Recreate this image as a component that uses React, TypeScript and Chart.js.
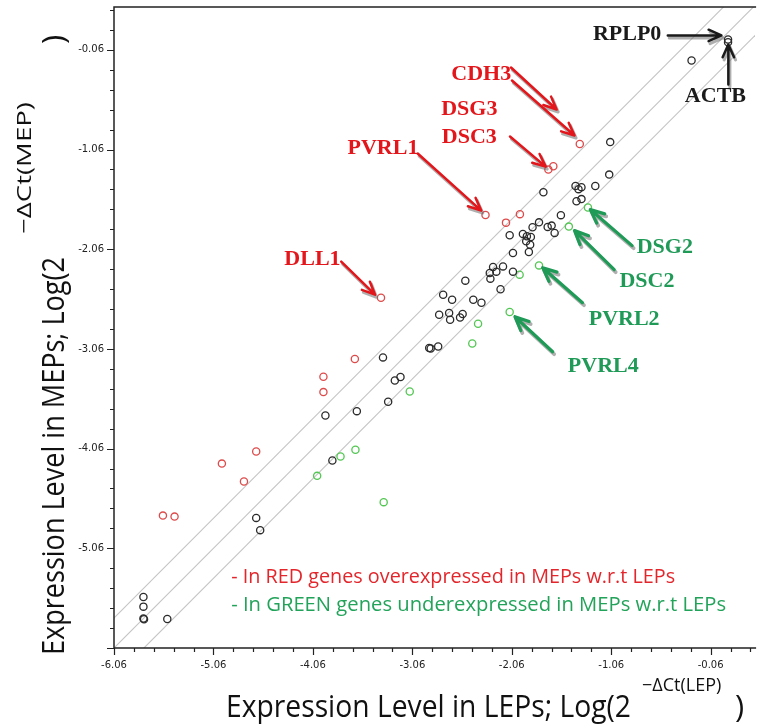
import React, { useEffect, useRef } from "react";
import { Chart, registerables } from "chart.js";
Chart.register(...registerables);

// ---------------- data ----------------
// genes with similar expression (black)
const unchangedGenes: [number, number][] = [
  [0.115, 0.044], [0.115, 0.017], [-0.252, -0.166],
  [-1.07, -0.985], [-1.08, -1.311],
  [-1.419, -1.426], [-1.359, -1.437], [-1.389, -1.457], [-1.22, -1.426],
  [-1.409, -1.579], [-1.359, -1.557], [-1.742, -1.489],
  [-1.566, -1.718], [-1.786, -1.79], [-1.699, -1.836], [-1.659, -1.823], [-1.629, -1.896],
  [-1.851, -1.84], [-1.948, -1.906], [-1.908, -1.93], [-1.868, -1.937], [-1.915, -1.981], [-1.875, -2.014],
  [-2.081, -1.92], [-2.048, -2.097], [-1.888, -2.087],
  [-2.148, -2.232], [-2.248, -2.238], [-2.281, -2.298], [-2.215, -2.285], [-2.275, -2.355], [-2.048, -2.285], [-2.173, -2.461],
  [-2.527, -2.375], [-2.447, -2.566], [-2.365, -2.596],
  [-2.75, -2.516], [-2.66, -2.566], [-2.79, -2.717], [-2.69, -2.7], [-2.68, -2.767], [-2.58, -2.744], [-2.554, -2.71],
  [-2.89, -3.05], [-2.875, -3.055], [-2.8, -3.035],
  [-3.355, -3.145], [-3.236, -3.376], [-3.179, -3.342], [-3.303, -3.59], [-3.618, -3.684], [-3.934, -3.728], [-3.864, -4.179],
  [-4.63, -4.755], [-4.59, -4.878],
  [-5.764, -5.548], [-5.764, -5.645], [-5.764, -5.764], [-5.758, -5.772], [-5.524, -5.769],
];
// overexpressed in MEPs (red)
const overexpressedGenes: [number, number][] = [
  [-1.376, -1.005], [-1.692, -1.261], [-1.642, -1.228], [-2.324, -1.716], [-2.118, -1.793], [-1.978, -1.708],
  [-3.375, -2.546], [-3.638, -3.161], [-3.954, -3.339], [-3.954, -3.493],
  [-4.63, -4.089], [-4.975, -4.21], [-4.753, -4.39], [-5.568, -4.732], [-5.451, -4.742],
];
// underexpressed in MEPs (green)
const underexpressedGenes: [number, number][] = [
  [-1.294, -1.642], [-1.486, -1.833], [-1.981, -2.315], [-1.786, -2.222], [-2.081, -2.689], [-2.399, -2.807],
  [-2.457, -3.005], [-3.086, -3.487], [-3.632, -4.072], [-3.782, -4.139], [-4.017, -4.333], [-3.348, -4.597],
];

const xTickLabels = [-6.06, -5.06, -4.06, -3.06, -2.06, -1.06, -0.06];
const yTickLabels = [-5.06, -4.06, -3.06, -2.06, -1.06, -0.06];
const minorStep = 0.2;
const foldOffsets = [0.301, 0, -0.301];
const X_MIN = -6.06, X_MAX = 0.387, Y_MIN = -6.06, Y_MAX = 0.37;

type Note = { text: string; kind: "black" | "red" | "green"; tx: number; ty: number; arrows: number[][] };
const notes: Note[] = [
  { text: "RPLP0", kind: "black", tx: -0.9, ty: 0.095, arrows: [[-0.491, 0.085, 0.048, 0.085]] },
  { text: "ACTB", kind: "black", tx: -0.012, ty: -0.528, arrows: [[0.118, -0.407, 0.118, -0.006]] },
  { text: "CDH3", kind: "red", tx: -2.367, ty: -0.307, arrows: [[-2.068, -0.237, -1.609, -0.658], [-2.058, -0.367, -1.429, -0.919]] },
  { text: "DSG3", kind: "red", tx: -2.487, ty: -0.658, arrows: [] },
  { text: "DSC3", kind: "red", tx: -2.487, ty: -0.94, arrows: [[-2.078, -0.929, -1.719, -1.231]] },
  { text: "PVRL1", kind: "red", tx: -3.355, ty: -1.05, arrows: [[-3.006, -1.1, -2.367, -1.672]] },
  { text: "DLL1", kind: "red", tx: -4.064, ty: -2.164, arrows: [[-3.775, -2.184, -3.435, -2.516]] },
  { text: "DSG2", kind: "green", tx: -0.521, ty: -2.044, arrows: [[-0.85, -2.024, -1.27, -1.662]] },
  { text: "DSC2", kind: "green", tx: -0.701, ty: -2.385, arrows: [[-1.03, -2.265, -1.429, -1.873]] },
  { text: "PVRL2", kind: "green", tx: -0.93, ty: -2.767, arrows: [[-1.349, -2.596, -1.749, -2.245]] },
  { text: "PVRL4", kind: "green", tx: -1.14, ty: -3.239, arrows: [[-1.649, -3.088, -2.028, -2.737]] },
];
const legendLines = [
  { text: "- In RED genes overexpressed in MEPs w.r.t LEPs", color: "#e3262b", x: -4.882, y: -5.347, width: 444 },
  { text: "- In GREEN genes underexpressed in MEPs w.r.t LEPs", color: "#22a35a", x: -4.882, y: -5.628, width: 495 },
];

const COLORS = {
  black: "#1a1a1a",
  red: "#e3161b",
  green: "#1f9a57",
  arrowShadow: "rgba(110,110,110,0.55)",
};

function drawArrow(ctx: CanvasRenderingContext2D, x1: number, y1: number, x2: number, y2: number, color: string, width: number, head: number) {
  const ang = Math.atan2(y2 - y1, x2 - x1);
  const a = 0.42;
  ctx.beginPath();
  ctx.moveTo(x1, y1);
  ctx.lineTo(x2, y2);
  ctx.moveTo(x2 - head * Math.cos(ang - a), y2 - head * Math.sin(ang - a));
  ctx.lineTo(x2, y2);
  ctx.lineTo(x2 - head * Math.cos(ang + a), y2 - head * Math.sin(ang + a));
  ctx.strokeStyle = color;
  ctx.lineWidth = width;
  ctx.lineCap = "round";
  ctx.lineJoin = "round";
  ctx.stroke();
}

function fitText(ctx: CanvasRenderingContext2D, text: string, x: number, y: number, rot: number, length: number) {
  ctx.save();
  ctx.translate(x, y);
  ctx.rotate(rot);
  const w = ctx.measureText(text).width;
  ctx.scale(length / w, 1);
  ctx.fillText(text, 0, 0);
  ctx.restore();
}

const overlay = {
  id: "overlay",
  afterDraw(chart: any) {
    const { ctx, chartArea: ca, scales } = chart;
    const xs = scales.x, ys = scales.y;
    ctx.save();
    // frame
    ctx.strokeStyle = "#222";
    ctx.lineWidth = 1.5;
    ctx.beginPath();
    ctx.moveTo(ca.right + 1, ca.top);
    ctx.lineTo(ca.left, ca.top);
    ctx.lineTo(ca.left, ca.bottom);
    ctx.lineTo(ca.right + 1, ca.bottom);
    ctx.stroke();
    // ticks
    ctx.lineWidth = 1.2;
    ctx.beginPath();
    for (let i = 0; ; i++) {
      const v = X_MIN + i * minorStep;
      if (v > X_MAX + 1e-9) break;
      const major = i % 5 === 0;
      const px = Math.round(xs.getPixelForValue(v)) + 0.5;
      ctx.moveTo(px, ca.bottom);
      ctx.lineTo(px, ca.bottom + (major ? 7 : 4));
    }
    for (let i = 0; ; i++) {
      const v = Y_MIN + i * minorStep;
      if (v > Y_MAX + 1e-9) break;
      const major = i % 5 === 0;
      const py = Math.round(ys.getPixelForValue(v)) + 0.5;
      ctx.moveTo(ca.left, py);
      ctx.lineTo(ca.left - (major ? 7 : 4), py);
    }
    ctx.stroke();

    // annotations
    for (const n of notes) {
      const color = COLORS[n.kind];
      const lw = n.kind === "green" ? 3.2 : 2.5;
      const head = n.kind === "green" ? 15 : 14;
      for (const a of n.arrows) {
        const x1 = xs.getPixelForValue(a[0]), y1 = ys.getPixelForValue(a[1]);
        const x2 = xs.getPixelForValue(a[2]), y2 = ys.getPixelForValue(a[3]);
        drawArrow(ctx, x1 + 1.5, y1 + 2.5, x2 + 1.5, y2 + 2.5, COLORS.arrowShadow, lw + 0.6, head);
        drawArrow(ctx, x1, y1, x2, y2, color, lw, head);
      }
      ctx.fillStyle = color;
      ctx.font = "bold 22px 'Liberation Serif', 'Times New Roman', serif";
      ctx.textAlign = "center";
      ctx.textBaseline = "middle";
      ctx.fillText(n.text, xs.getPixelForValue(n.tx), ys.getPixelForValue(n.ty));
    }

    // legend text
    ctx.font = "20.5px 'Open Sans', sans-serif";
    ctx.textAlign = "left";
    ctx.textBaseline = "middle";
    for (const l of legendLines) {
      ctx.fillStyle = l.color;
      ctx.fillText(l.text, xs.getPixelForValue(l.x), ys.getPixelForValue(l.y), l.width);
    }

    // axis titles
    ctx.fillStyle = "#111";
    ctx.textBaseline = "alphabetic";
    ctx.textAlign = "left";
    ctx.font = "31px 'Open Sans', sans-serif";
    ctx.fillText("Expression Level in LEPs; Log(2", 226, 717, 405);
    ctx.fillText(")", 735, 717);
    ctx.font = "18px 'Open Sans', sans-serif";
    ctx.fillText("\u2212\u0394Ct(LEP)", 642, 691, 88);

    ctx.save();
    ctx.translate(64, 655);
    ctx.rotate(-Math.PI / 2);
    ctx.font = "31px 'Open Sans', sans-serif";
    ctx.fillText("Expression Level in MEPs; Log(2", 0, 0, 398);
    ctx.restore();
    ctx.font = "20px 'Open Sans', sans-serif";
    fitText(ctx, "\u2212\u0394Ct(MEP)", 31, 234, -Math.PI / 2, 132);
    ctx.save();
    ctx.translate(64, 44);
    ctx.rotate(-Math.PI / 2);
    ctx.font = "31px 'Open Sans', sans-serif";
    ctx.fillText(")", 0, 0);
    ctx.restore();

    ctx.restore();
  },
};

export default function App() {
  const ref = useRef<HTMLCanvasElement>(null);
  useEffect(() => {
    const toPts = (arr: [number, number][]) => arr.map(([x, y]) => ({ x, y }));
    const pointDs = (label: string, arr: [number, number][], color: string) => ({
      type: "scatter" as const,
      label,
      data: toPts(arr),
      borderColor: color,
      backgroundColor: "rgba(0,0,0,0)",
      pointRadius: 3.6,
      pointHoverRadius: 3.6,
      borderWidth: 1.3,
      order: 1,
    });
    const lineDs = foldOffsets.map((c) => ({
      type: "line" as const,
      label: "fold " + c,
      data: [
        { x: X_MIN - 1, y: X_MIN - 1 + c },
        { x: X_MAX + 1, y: X_MAX + 1 + c },
      ],
      borderColor: "#c4c4c4",
      borderWidth: 1.1,
      pointRadius: 0,
      fill: false,
      order: 10,
    }));
    const chart = new Chart(ref.current!, {
      type: "scatter",
      data: {
        datasets: [
          pointDs("unchanged", unchangedGenes, "#2b2b2b"),
          pointDs("overexpressed", overexpressedGenes, "#de4a4a"),
          pointDs("underexpressed", underexpressedGenes, "#52c752"),
          ...lineDs,
        ] as any,
      },
      options: {
        animation: false,
        responsive: false,
        devicePixelRatio: 1,
        layout: { padding: { top: 7, left: 0, right: 0, bottom: 0 } },
        plugins: { legend: { display: false }, tooltip: { enabled: false } },
        scales: {
          x: {
            type: "linear",
            min: X_MIN,
            max: X_MAX,
            afterBuildTicks: (s: any) => {
              s.ticks = xTickLabels.map((v) => ({ value: v }));
            },
            afterFit: (s: any) => {
              s.height = 80;
              s.paddingLeft = 0;
              s.paddingRight = 0;
            },
            grid: { display: false, drawTicks: false },
            border: { display: false },
            ticks: {
              autoSkip: false,
              maxRotation: 0,
              padding: 11,
              color: "#222",
              font: { family: "'DejaVu Sans', sans-serif", size: 10 },
              callback: (v: any) => Number(v).toFixed(2),
            },
          },
          y: {
            type: "linear",
            min: Y_MIN,
            max: Y_MAX,
            afterBuildTicks: (s: any) => {
              s.ticks = yTickLabels.map((v) => ({ value: v }));
            },
            afterFit: (s: any) => {
              s.width = 114;
              s.paddingTop = 0;
              s.paddingBottom = 0;
            },
            grid: { display: false, drawTicks: false },
            border: { display: false },
            ticks: {
              autoSkip: false,
              padding: 10,
              color: "#222",
              font: { family: "'DejaVu Sans', sans-serif", size: 10 },
              callback: (v: any) => Number(v).toFixed(2),
            },
          },
        },
      },
      plugins: [overlay],
    } as any);
    return () => chart.destroy();
  }, []);
  return (
    <div style={{ position: "fixed", left: 0, top: 0, width: 760, height: 728, background: "#fff" }}>
      <canvas ref={ref} width={760} height={728} style={{ width: 760, height: 728, display: "block" }} />
    </div>
  );
}
